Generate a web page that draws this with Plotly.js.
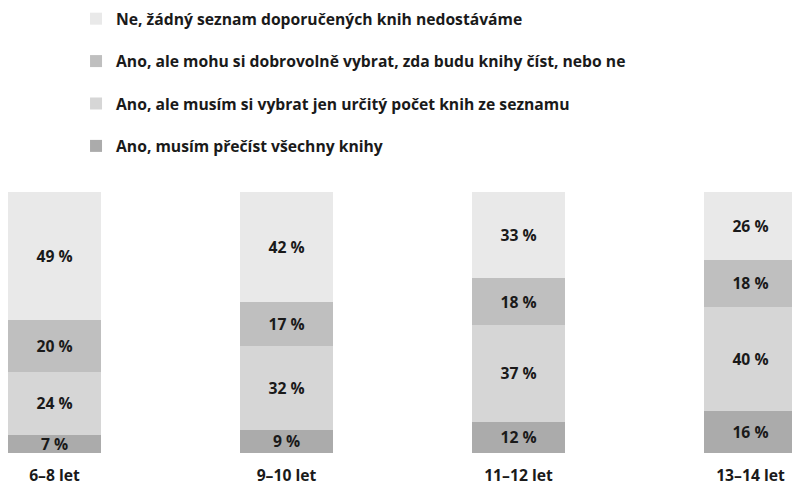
<!DOCTYPE html>
<html>
<head>
<meta charset="utf-8">
<script src="https://cdn.plot.ly/plotly-3.0.1.min.js"></script>
<style>html,body{margin:0;padding:0;background:#fff;overflow:hidden}#chart{width:792px;height:491px}</style>
</head>
<body>
<div id="chart"></div>
<script>
const categories = ['6–8 let', '9–10 let', '11–12 let', '13–14 let'];
const seriesNames = [
  'Ano, musím přečíst všechny knihy',
  'Ano, ale musím si vybrat jen určitý počet knih ze seznamu',
  'Ano, ale mohu si dobrovolně vybrat, zda budu knihy číst, nebo ne',
  'Ne, žádný seznam doporučených knih nedostáváme'
];
const mustReadAll = [7, 9, 12, 16];
const mustChooseSome = [24, 32, 37, 40];
const voluntary = [20, 17, 18, 18];
const noList = [49, 42, 33, 26];
const colors = ['#ababab', '#d6d6d6', '#bfbfbf', '#e9e9e9'];

const FONT = '"Open Sans", "Noto Sans", sans-serif';
const FS = 15.7;
const values = [mustReadAll, mustChooseSome, voluntary, noList];

const traces = values.map((v, i) => ({
  type: 'bar',
  name: seriesNames[i],
  x: categories,
  y: v,
  legendgroup: 'g' + i,
  legendrank: 10 - i,
  marker: {color: colors[i], line: {width: 0}},
  texttemplate: '%{y} %',
  textposition: 'inside',
  insidetextanchor: 'middle',
  textangle: 0,
  constraintext: 'none',
  textfont: {family: FONT, size: FS, color: '#1a1a1a', weight: 'bold'},
  hoverinfo: 'name+y'
}));

const layout = {
  width: 792,
  height: 491,
  margin: {l: 0, r: 0, t: 192, b: 38, pad: 0},
  paper_bgcolor: '#ffffff',
  plot_bgcolor: '#ffffff',
  barmode: 'stack',
  bargap: 0.599,
  uniformtext: {mode: 'show', minsize: FS},
  font: {family: FONT, size: FS, color: '#1a1a1a', weight: 'bold'},
  xaxis: {
    type: 'category',
    range: [-0.2349, 3.179],
    showgrid: false, zeroline: false, showline: false, ticks: '',
    ticklabelstandoff: 11,
    tickfont: {family: FONT, size: FS, color: '#1a1a1a', weight: 'bold'}
  },
  yaxis: {
    range: [0, 100],
    visible: false, showgrid: false, zeroline: false
  },
  showlegend: true,
  legend: {
    x: 0.096, xanchor: 'left',
    y: 0.996, yanchor: 'top', yref: 'container',
    traceorder: 'grouped',
    tracegroupgap: 19,
    font: {family: FONT, size: FS, color: '#1a1a1a', weight: 'bold'},
    bgcolor: 'rgba(0,0,0,0)', borderwidth: 0,
    itemclick: false, itemdoubleclick: false
  }
};

Plotly.newPlot('chart', traces, layout, {displayModeBar: false, staticPlot: true});
</script>
</body>
</html>
